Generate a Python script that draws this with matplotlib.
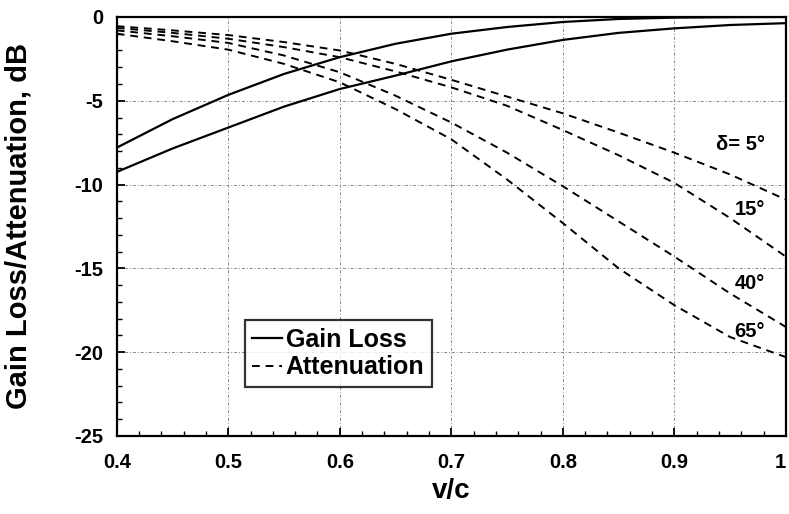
import matplotlib
matplotlib.use("Agg")
import matplotlib.pyplot as plt
from matplotlib.ticker import MultipleLocator

plt.rcParams['font.family'] = ['Liberation Sans', 'DejaVu Sans']
plt.rcParams['axes.unicode_minus'] = False

v_c = [0.40, 0.45, 0.50, 0.55, 0.60, 0.65, 0.70, 0.75, 0.80, 0.85, 0.90, 0.95, 1.00]

gain_loss_a = [-7.8, -6.1, -4.65, -3.4, -2.4, -1.6, -1.0, -0.6, -0.3, -0.12, -0.04, -0.01, 0.0]
gain_loss_b = [-9.25, -7.85, -6.6, -5.35, -4.3, -3.5, -2.65, -1.95, -1.37, -0.95, -0.68, -0.48, -0.37]

atten_5 = [-0.55, -0.8, -1.08, -1.5, -2.0, -2.8, -3.75, -4.75, -5.75, -6.9, -8.1, -9.4, -10.9]
atten_15 = [-0.65, -0.95, -1.3, -1.8, -2.4, -3.25, -4.2, -5.3, -6.75, -8.25, -9.9, -12.0, -14.3]
atten_40 = [-0.8, -1.15, -1.55, -2.3, -3.3, -4.7, -6.3, -8.1, -10.1, -12.2, -14.3, -16.5, -18.5]
atten_65 = [-1.0, -1.45, -1.95, -2.8, -3.9, -5.5, -7.3, -9.7, -12.3, -15.0, -17.2, -19.1, -20.3]

curve_labels = ["δ= 5°", "15°", "40°", "65°"]
label_y = [-7.6, -11.5, -15.9, -18.8]

x_ticks = [0.4, 0.5, 0.6, 0.7, 0.8, 0.9, 1.0]
x_tick_labels = ["0.4", "0.5", "0.6", "0.7", "0.8", "0.9", "1"]
y_ticks = [0, -5, -10, -15, -20, -25]

fig = plt.figure(figsize=(7.89, 5.14), dpi=100)
ax = fig.add_axes([0.148, 0.152, 0.848, 0.815])

dash = (4.0, 3.0)
lw_d = 1.4
ax.plot(v_c, gain_loss_a, color='black', lw=1.6, label='Gain Loss')
ax.plot(v_c, gain_loss_b, color='black', lw=1.6)
ax.plot(v_c, atten_5, color='black', lw=lw_d, dashes=dash, label='Attenuation')
for s in (atten_15, atten_40, atten_65):
    ax.plot(v_c, s, color='black', lw=lw_d, dashes=dash)

for txt, yy in zip(curve_labels, label_y):
    ax.text(0.981, yy, txt, ha='right', va='center', fontsize=14.5, fontweight='bold')

ax.set_xlim(0.4, 1.0)
ax.set_ylim(-25, 0)
ax.set_xticks(x_ticks)
ax.set_xticklabels(x_tick_labels)
ax.set_yticks(y_ticks)
ax.set_yticklabels([str(t) for t in y_ticks])
ax.xaxis.set_minor_locator(MultipleLocator(0.02))
ax.yaxis.set_minor_locator(MultipleLocator(1))
ax.tick_params(which='major', direction='in', length=6, width=1.3, labelsize=14.5)
ax.tick_params(axis='x', which='major', pad=12)
ax.tick_params(axis='y', which='major', pad=10)
ax.tick_params(which='minor', direction='in', length=3.5, width=1.0)
for lab in ax.get_xticklabels() + ax.get_yticklabels():
    lab.set_fontweight('bold')
ax.get_xticklabels()[-1].set_horizontalalignment('right')

ax.grid(True, which='major', color='#888888', lw=0.7, ls=(0, (3, 2, 1, 2)))
for sp in ax.spines.values():
    sp.set_linewidth(1.6)

ax.set_xlabel('v/c', fontsize=20, fontweight='bold', labelpad=5)
ax.set_ylabel('Gain Loss/Attenuation, dB', fontsize=21, fontweight='bold', labelpad=30)

leg = ax.legend(loc='lower left', bbox_to_anchor=(0.191, 0.117),
                prop={'weight': 'bold', 'size': 18}, frameon=True, fancybox=False,
                edgecolor='black', handlelength=1.2, handletextpad=0.15,
                borderpad=0.3, labelspacing=0.15, borderaxespad=0)
leg.get_frame().set_linewidth(1.6)

fig.savefig('out.png', dpi=100)
